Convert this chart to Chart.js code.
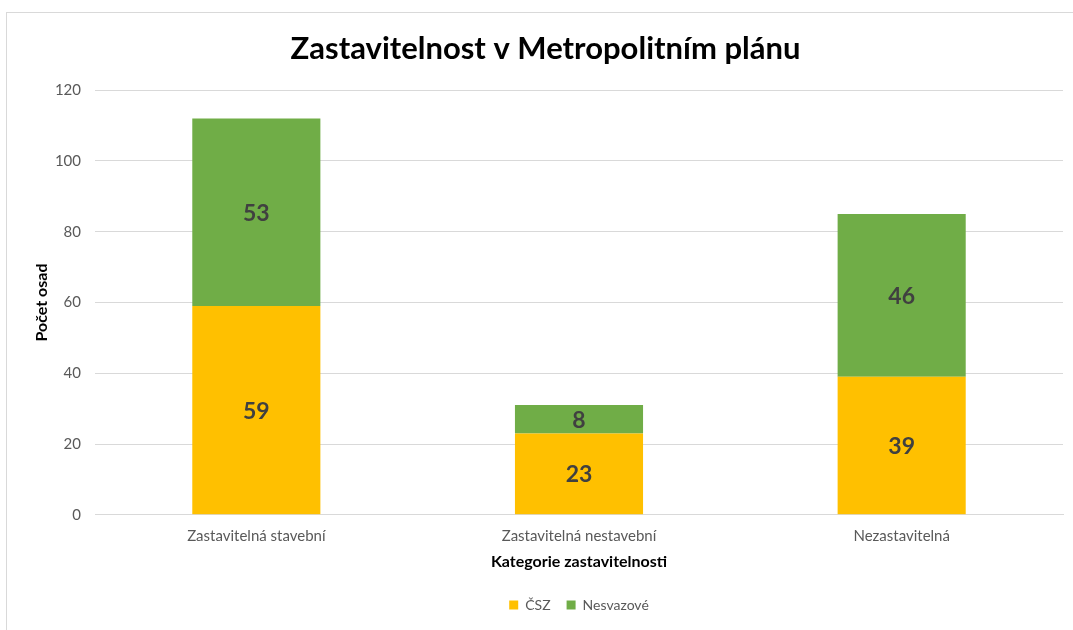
<!DOCTYPE html>
<html>
<head>
<meta charset="utf-8">
<script src="https://cdn.jsdelivr.net/npm/chart.js@4"></script>
<style>
html,body{margin:0;padding:0;background:#fff;}
#frame{position:absolute;left:6px;top:12px;width:1200px;height:700px;border:1px solid #d9d9d9;box-sizing:border-box;}
#wrap{position:absolute;left:0;top:0;width:1073px;height:630px;}
</style>
</head>
<body>
<div id="frame"></div>
<div id="wrap"><canvas id="c" width="1073" height="630"></canvas></div>
<script>
const categories = ["Zastavitelná stavební", "Zastavitelná nestavební", "Nezastavitelná"];
const seriesNames = ["ČSZ", "Nesvazové"];
const cszValues = [59, 23, 39];
const nesvazoveValues = [53, 8, 46];
const yTicks = [0, 20, 40, 60, 80, 100, 120];

const FONT = "Lato, 'Open Sans', sans-serif";

const labelPlugin = {
  id: 'segLabels',
  afterDatasetsDraw(chart) {
    const ctx = chart.ctx;
    ctx.save();
    ctx.font = "bold 23px " + FONT;
    ctx.fillStyle = "#404040";
    ctx.textAlign = "center";
    ctx.textBaseline = "middle";
    chart.data.datasets.forEach((ds, i) => {
      const meta = chart.getDatasetMeta(i);
      meta.data.forEach((el, j) => {
        const p = el.getProps(['x', 'y', 'base'], true);
        ctx.fillText(String(ds.data[j]), p.x, (p.y + p.base) / 2 + 1);
      });
    });
    ctx.restore();
  }
};

new Chart(document.getElementById('c'), {
  type: 'bar',
  data: {
    labels: categories,
    datasets: [
      { label: seriesNames[0], data: cszValues, backgroundColor: '#FFC000', borderWidth: 0 },
      { label: seriesNames[1], data: nesvazoveValues, backgroundColor: '#70AD47', borderWidth: 0 }
    ]
  },
  options: {
    responsive: false,
    animation: false,
    devicePixelRatio: 1,
    layout: { padding: { left: 28, right: 10, top: 0, bottom: 8 } },
    datasets: { bar: { categoryPercentage: 1, barPercentage: 0.397 } },
    plugins: {
      title: {
        display: true,
        text: "Zastavitelnost v Metropolitním plánu",
        color: "#000",
        font: { family: FONT, size: 31, weight: 'bold' },
        padding: { top: 30, bottom: 23 }
      },
      legend: {
        display: true,
        position: 'bottom',
        fullSize: false,
        labels: {
          boxWidth: 9, boxHeight: 9, color: '#595959',
          font: { family: FONT, size: 14 }, padding: 16
        }
      },
      tooltip: { enabled: false }
    },
    scales: {
      x: {
        stacked: true,
        grid: { display: false, drawTicks: false },
        border: { display: true, color: '#d9d9d9' },
        ticks: { color: '#595959', font: { family: FONT, size: 15 }, padding: 12 },
        title: { display: true, text: "Kategorie zastavitelnosti", color: '#000',
                 font: { family: FONT, size: 16, weight: 'bold' }, padding: { top: -5, bottom: 11 } }
      },
      y: {
        stacked: true,
        min: 0, max: 120,
        afterBuildTicks(scale) { scale.ticks = yTicks.map(v => ({ value: v })); },
        afterFit(scale) { scale.width = 67; },
        grid: { color: '#d9d9d9', drawTicks: false },
        border: { display: false },
        ticks: { color: '#595959', font: { family: FONT, size: 15 }, padding: 14 },
        title: { display: true, text: "Počet osad", color: '#000',
                 font: { family: FONT, size: 16, weight: 'bold' }, padding: { top: 4, bottom: 0 } }
      }
    }
  },
  plugins: [labelPlugin]
});
</script>
</body>
</html>
